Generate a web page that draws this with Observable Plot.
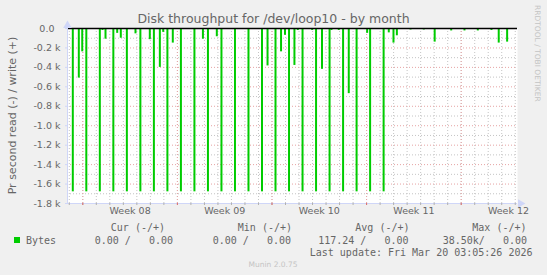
<!DOCTYPE html>
<html><head><meta charset="utf-8">
<script src="https://cdn.jsdelivr.net/npm/d3@7"></script>
<script src="https://cdn.jsdelivr.net/npm/@observablehq/plot@0.6"></script>
<style>
html,body{margin:0;padding:0;background:#F0F0F0;}
#chart{width:547px;height:275px;}
</style></head><body><div id="chart"></div>
<script>
const title = "Disk throughput for /dev/loop10 - by month";
const yLabel = "Pr second read (-) / write (+)";
const timeStart = "2026-02-14T20:50:00Z";
const timeEnd = "2026-03-20T04:00:00Z";
const yTickValues = [0, -200, -400, -600, -800, -1000, -1200, -1400, -1600, -1800];
const yTickLabels = ["0.0", "-0.2 k", "-0.4 k", "-0.6 k", "-0.8 k", "-1.0 k", "-1.2 k", "-1.4 k", "-1.6 k", "-1.8 k"];
const weekLabels = ["Week 08", "Week 09", "Week 10", "Week 11", "Week 12"];

const readTimes = [
  "2026-02-15T06:15Z","2026-02-15T16:55Z","2026-02-15T23:00Z","2026-02-16T06:15Z",
  "2026-02-17T06:15Z","2026-02-17T11:00Z","2026-02-17T16:20Z","2026-02-18T06:15Z",
  "2026-02-18T13:05Z","2026-02-18T19:30Z","2026-02-19T06:15Z","2026-02-19T21:35Z",
  "2026-02-20T06:15Z","2026-02-20T23:00Z","2026-02-21T06:15Z","2026-02-21T16:50Z",
  "2026-02-21T22:50Z","2026-02-22T06:15Z","2026-02-22T15:50Z","2026-02-23T06:15Z",
  "2026-02-24T06:15Z","2026-02-24T21:20Z","2026-02-25T06:15Z","2026-02-25T22:00Z",
  "2026-02-26T06:15Z","2026-02-26T22:20Z","2026-02-27T06:15Z","2026-02-28T06:15Z",
  "2026-03-01T06:15Z","2026-03-01T16:05Z","2026-03-02T06:15Z","2026-03-02T16:05Z",
  "2026-03-02T23:05Z","2026-03-03T06:15Z","2026-03-03T15:50Z","2026-03-03T21:50Z",
  "2026-03-04T06:15Z","2026-03-04T23:20Z","2026-03-05T06:15Z","2026-03-05T16:50Z",
  "2026-03-06T06:15Z","2026-03-06T09:35Z","2026-03-06T22:35Z","2026-03-07T06:15Z",
  "2026-03-07T16:20Z","2026-03-08T06:15Z","2026-03-09T01:00Z","2026-03-09T06:15Z",
  "2026-03-10T06:15Z","2026-03-10T15:25Z","2026-03-10T23:45Z","2026-03-11T05:45Z",
  "2026-03-12T06:00Z","2026-03-13T05:35Z","2026-03-14T00:55Z","2026-03-15T06:15Z",
  "2026-03-16T05:50Z","2026-03-17T05:30Z","2026-03-18T05:45Z","2026-03-18T18:40Z",
  "2026-03-19T09:35Z"
];
const readValues = [
  -1680, -510, -240, -1680,
  -1680, -20, -110, -1680,
  -50, -100, -1680, -55,
  -1680, -115, -1680, -400,
  -40, -1680, -150, -1680,
  -1680, -110, -1680, -85,
  -1680, -10, -1680, -1680,
  -1680, -385, -1680, -240,
  -70, -1680, -380, -20,
  -1680, -20, -1680, -420,
  -1680, -20, -20, -1680,
  -670, -1680, -50, -1680,
  -1680, -45, -150, -75,
  -15, -15, -140, -25,
  -25, -25, -20, -150,
  -140
];

const legendSeries = "Bytes";
const legendHeaders = ["Cur (-/+)", "Min (-/+)", "Avg (-/+)", "Max (-/+)"];
const legendValues = ["0.00 /   0.00", "0.00 /   0.00", "117.24 /   0.00", "38.50k/   0.00"];
const lastUpdate = "Last update: Fri Mar 20 03:05:26 2026";
const footer = "Munin 2.0.75";
const watermark = "RRDTOOL / TOBI OETIKER";

const readings = readTimes.map((t, i) => ({time: new Date(t), value: readValues[i]}));
const x0 = new Date(timeStart), x1 = new Date(timeEnd);
const days = d3.utcDay.range(d3.utcDay.ceil(x0), x1);
const weeks = d3.utcMonday.range(x0, x1);
const weekMids = weeks.map(d => d3.utcHour.offset(d, 84));
const weekLabelByTime = new Map(weekMids.map((d, i) => [+d, weekLabels[i]]));
const yLabelByValue = new Map(yTickValues.map((v, i) => [v, yTickLabels[i]]));
const yMinor = yTickValues.slice(1).map(v => v + 100);
const yMajor = yTickValues.filter(v => v < 0);

const green = "#00CC00";
const axisColor = "#CFD6F8";
const minorGrid = "#c4c4c4";
const majorGrid = "#e6a3a3";

const plot = Plot.plot({
  width: 547, height: 275,
  marginLeft: 67, marginRight: 30, marginTop: 28, marginBottom: 72,
  style: {background: "#F0F0F0", fontFamily: "DejaVu Sans", color: "#666"},
  x: {type: "utc", domain: [x0, x1]},
  y: {domain: [-1800, 0]},
  marks: [
    Plot.frame({fill: "#fff", stroke: "none"}),
    Plot.gridX(days, {stroke: minorGrid, strokeOpacity: 1, strokeDasharray: "1,2"}),
    Plot.gridY(yMinor, {stroke: minorGrid, strokeOpacity: 1, strokeDasharray: "1,2"}),
    Plot.gridX(weeks, {stroke: majorGrid, strokeOpacity: 1, strokeDasharray: "1,2"}),
    Plot.gridY(yMajor, {stroke: majorGrid, strokeOpacity: 1, strokeDasharray: "1,2"}),
    Plot.ruleX(readings, {x: "time", y1: 0, y2: "value", stroke: green, strokeWidth: 2}),
    Plot.ruleY([0], {stroke: "#000", strokeWidth: 1.5}),
    Plot.ruleX([x0], {stroke: axisColor}),
    Plot.ruleY([-1800], {stroke: axisColor}),
    Plot.dot([x0], {x: d => d, frameAnchor: "top", dy: -3, symbol: "triangle", r: 3.2, fill: axisColor, stroke: "none"}),
    Plot.dot([x1], {x: d => d, frameAnchor: "bottom", dx: 3, symbol: "triangle", rotate: 90, r: 3.2, fill: axisColor, stroke: "none"}),
    Plot.axisX(days, {tickSize: 2, fill: "none", stroke: "#b0b0b0", label: null}),
    Plot.axisX(weeks, {tickSize: 2, fill: "none", stroke: "#e07070", label: null}),
    Plot.axisX(weekMids, {tickSize: 0, tickPadding: 4, tickFormat: d => weekLabelByTime.get(+d), fontSize: 9.5, fill: "#666", label: null}),
    Plot.axisY(yTickValues, {tickSize: 2, tickPadding: 5, stroke: axisColor, fill: "#666", fontSize: 9.5, label: null,
      tickFormat: d => d === 0 ? yLabelByValue.get(d) + "\u00a0\u00a0" : yLabelByValue.get(d)})
  ]
});
document.getElementById("chart").appendChild(plot);

const svg = d3.select(plot);
const txt = (x, y, s, size, anchor, fill, family) => svg.append("text")
  .attr("x", x).attr("y", y).attr("text-anchor", anchor).attr("fill", fill)
  .style("font-family", family).style("font-size", size + "px").style("white-space", "pre").text(s);

txt(273.5, 23, title, 12.5, "middle", "#666", "DejaVu Sans");
svg.append("text").attr("transform", "translate(15.5,115.5) rotate(-90)").attr("text-anchor", "middle")
  .attr("fill", "#666").style("font-family", "DejaVu Sans").style("font-size", "11px").text(yLabel);
svg.append("text").attr("transform", "translate(534.5,5) rotate(90)").attr("text-anchor", "start")
  .attr("fill", "#c4c4c4").style("font-family", "DejaVu Sans").style("font-size", "7.5px").text(watermark);

const mono = "DejaVu Sans Mono";
const headerEnds = [165, 292, 409.5, 526.5];
const valueEnds = [173, 291, 408.5, 527];
legendHeaders.forEach((h, i) => txt(headerEnds[i], 231, h, 10, "end", "#666", mono));
svg.append("rect").attr("x", 14).attr("y", 237).attr("width", 6).attr("height", 6).attr("fill", green);
txt(26, 243.5, legendSeries, 10, "start", "#666", mono);
legendValues.forEach((v, i) => txt(valueEnds[i], 243.5, v, 10, "end", "#666", mono));
txt(532.5, 255.5, lastUpdate, 10, "end", "#666", mono);
txt(273, 266.5, footer, 7.5, "middle", "#c4c4c4", "DejaVu Sans");
</script></body></html>
